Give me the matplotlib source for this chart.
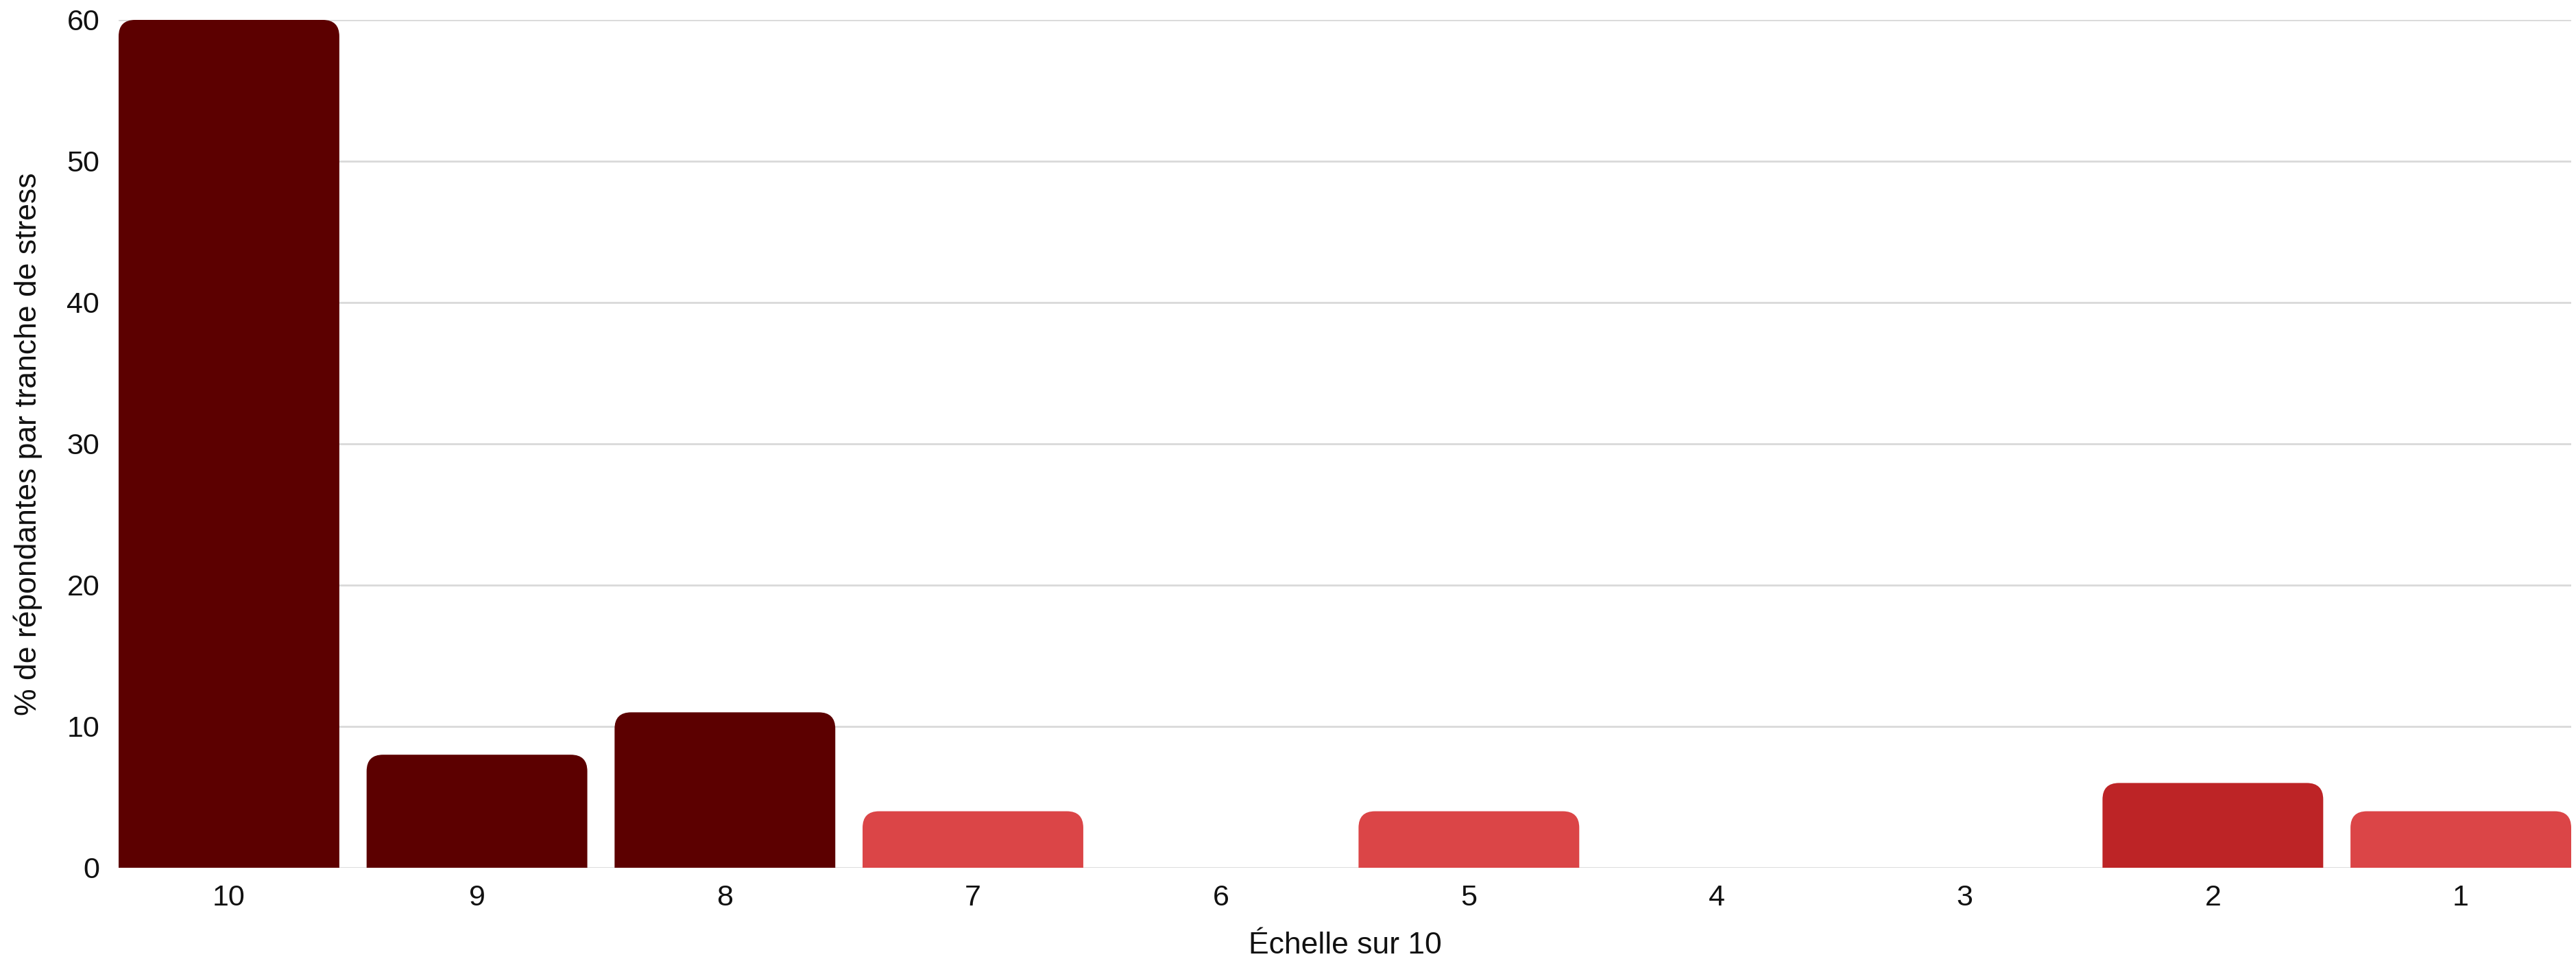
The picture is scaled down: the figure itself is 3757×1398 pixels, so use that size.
import matplotlib
matplotlib.use('Agg')
import matplotlib.pyplot as plt
from matplotlib.path import Path
from matplotlib.patches import PathPatch

categories = ['10', '9', '8', '7', '6', '5', '4', '3', '2', '1']
values = [60, 8, 11, 4, 0, 4, 0, 0, 6, 4]
colors = ['#5c0000', '#5c0000', '#5c0000', '#db4547', '#db4547',
          '#db4547', '#db4547', '#bd2426', '#bd2426', '#db4547']

plt.rcParams['font.family'] = ['Liberation Sans', 'DejaVu Sans']

W, H, dpi = 3757, 1398, 100
fig = plt.figure(figsize=(W / dpi, H / dpi), dpi=dpi)
left, right, bottom, top = 173 / W, 3750 / W, 133 / H, 1369 / H
ax = fig.add_axes([left, bottom, right - left, top - bottom])

bw = 0.89
ax.set_xlim(-bw / 2, len(categories) - 1 + bw / 2)
ax.set_ylim(0, 60)

# corner radius in pixels -> data units
r_px = 24
ax_w_px = (right - left) * W
ax_h_px = (top - bottom) * H
rx = r_px * (ax.get_xlim()[1] - ax.get_xlim()[0]) / ax_w_px
ry = r_px * 60 / ax_h_px

for i, (v, c) in enumerate(zip(values, colors)):
    if v <= 0:
        continue
    x0, x1 = i - bw / 2, i + bw / 2
    r_y = min(ry, v)
    verts = [(x0, 0), (x0, v - r_y), (x0, v), (x0 + rx, v),
             (x1 - rx, v), (x1, v), (x1, v - r_y), (x1, 0), (x0, 0)]
    codes = [Path.MOVETO, Path.LINETO, Path.CURVE3, Path.CURVE3,
             Path.LINETO, Path.CURVE3, Path.CURVE3, Path.LINETO, Path.CLOSEPOLY]
    ax.add_patch(PathPatch(Path(verts, codes), facecolor=c, edgecolor='none', zorder=3))

ax.set_yticks([0, 10, 20, 30, 40, 50, 60])
ax.set_xticks(range(len(categories)))
ax.set_xticklabels(categories)
ax.grid(axis='y', color='#d9d9d9', linewidth=2, zorder=0)
ax.set_axisbelow(True)
for s in ax.spines.values():
    s.set_visible(False)
ax.tick_params(length=0, labelsize=31, colors='#111111')
ax.tick_params(axis='y', pad=20)
ax.tick_params(axis='x', pad=17)

fig.text(17 / 1568, (bottom + top) / 2, '% de répondantes par tranche de stress',
         rotation=90, va='center', ha='center', fontsize=32, color='#111111')
fig.text((left + right) / 2, 1 - 575 / 583, 'Échelle sur 10',
         ha='center', va='center', fontsize=32, color='#111111')

fig.savefig('out.png', dpi=dpi, facecolor='white')
